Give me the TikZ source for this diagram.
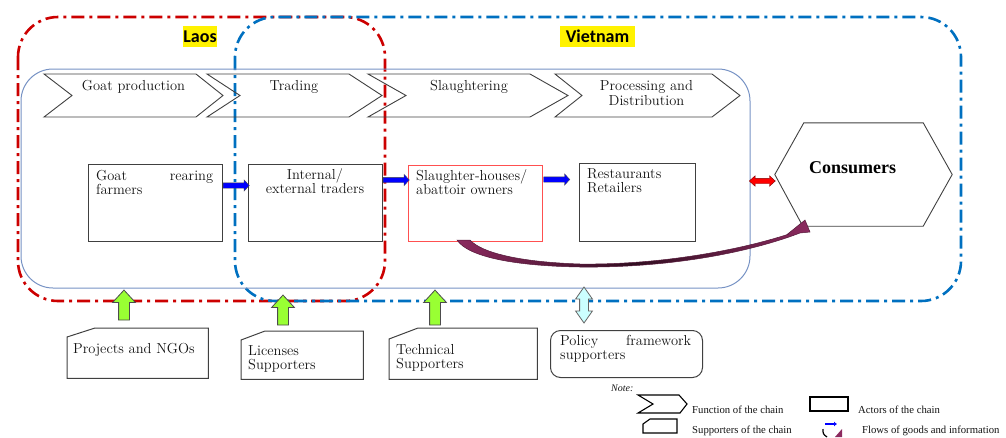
\documentclass[tikz,border=0pt]{standalone}
\usepackage{fontspec}
\newfontfamily\calfont{Carlito}
\newfontfamily\tnrfont{Liberation Serif}
\usetikzlibrary{shapes.arrows,calc,arrows.meta}
\definecolor{laored}{RGB}{204,0,0}
\definecolor{vnblue}{RGB}{0,112,192}
\definecolor{frameblue}{RGB}{118,146,196}
\definecolor{boxgray}{RGB}{64,64,64}
\definecolor{flowmaroon}{RGB}{140,42,95}
\definecolor{arrgreen}{RGB}{153,255,51}
\definecolor{arrcyan}{RGB}{204,255,255}
\definecolor{txt}{RGB}{20,20,20}
\definecolor{slred}{RGB}{255,80,80}
\tikzset{
  country/.style={line width=2.6pt, dash pattern=on 13pt off 5pt on 3pt off 5pt, rounded corners=40pt},
  chev/.style={draw=boxgray, line width=0.9pt},
  actor/.style={draw=boxgray, line width=1pt, inner sep=0pt},
  suppline/.style={draw=boxgray, line width=1pt},
  lbl/.style={font=\fontsize{14.5}{14.5}\selectfont, text=txt, inner sep=0pt, align=left},
  hlbox/.style={fill=yellow, inner sep=0pt, minimum height=21pt, font=\calfont\bfseries\fontsize{18}{20}\selectfont},
  legtxt/.style={font=\tnrfont\fontsize{10.7}{11}\selectfont, text=txt, inner sep=0pt},
  flowarrow/.style={single arrow, draw=black!70, fill=blue, line width=0.4pt, inner sep=2.5pt,
     minimum height=26pt, single arrow head extend=3pt, single arrow tip angle=95},
  supparrow/.style={single arrow, draw=black!70, fill=arrgreen, line width=0.8pt, inner sep=5pt,
     single arrow head extend=6pt, single arrow tip angle=85, rotate=90},
  polarrow/.style={double arrow, draw=black!60, fill=arrcyan, line width=0.8pt, inner sep=4pt,
     minimum height=36pt, double arrow head extend=4pt, double arrow tip angle=70, rotate=90},
  consarrow/.style={double arrow, draw=red!50!black, fill=red, line width=0.4pt, inner sep=2.5pt,
     minimum height=26pt, double arrow head extend=2.5pt, double arrow tip angle=84},
}
\newcommand\chevshape[4]{\draw[chev] (#1,74) -- (#3,74) -- (#4,95.5) -- (#3,117) -- (#1,117) -- (#2,95.5) -- cycle;}
\newcommand\cutbox[3]{\draw[suppline] (#1.south west) -- ([yshift=-#3pt]#1.north west) -- ([xshift=#2pt]#1.north west) -- (#1.north east) -- (#1.south east) -- cycle;}
\begin{document}
\begin{tikzpicture}[x=1pt,y=-1pt]
\useasboundingbox (0,0) rectangle (1006,437);

% country frames
\draw[country, laored] (18,17) rectangle (385,301);
\draw[country, vnblue] (235,17) rectangle (961,301);
\node[hlbox, minimum width=34pt] (laos) at (200,36.5) {Laos};
\node[hlbox, minimum width=75pt] (vn) at (597.5,36.5) {Vietnam};

% value chain frame
\draw[frameblue, line width=1pt, rounded corners=32pt] (21,69) rectangle (750,288);

% functions
\chevshape{44}{72}{196}{223}
\chevshape{207}{240}{349}{382}
\chevshape{368}{406}{530}{568}
\chevshape{555}{582}{712}{740}
\node[lbl, anchor=base] (fgoat) at (133.5,90) {Goat production};
\node[lbl, anchor=base] (ftrade) at (294,90) {Trading};
\node[lbl, anchor=base] (fslau) at (469,90) {Slaughtering};
\node[lbl, anchor=base, align=center] (fproc) at (646.5,105) {Processing and\\Distribution};

% actors
\node[actor, minimum width=134pt, minimum height=77pt] (farm) at (155,202.5) {};
\node[actor, minimum width=134pt, minimum height=77pt] (trad) at (315,202.5) {};
\node[actor, draw=slred, line width=1pt, minimum width=134pt, minimum height=76pt] (slau) at (475,203) {};
\node[actor, minimum width=116pt, minimum height=78pt] (rest) at (637,202) {};
\node[lbl, anchor=base west] (farmt) at (96,194.5) {\makebox[117pt][s]{Goat rearing}\\farmers};
\node[lbl, anchor=base, align=center] (tradt) at (315,193.5) {Internal/\\external traders};
\node[lbl, anchor=base west] (slaut) at (416,194.5) {Slaughter-houses/\\abattoir owners};
\node[lbl, anchor=base west] (restt) at (587,192.5) {Restaurants\\Retailers};

% consumers
\node[inner sep=0pt, minimum width=177pt, minimum height=103pt] (cons) at (863.5,174.5) {};
\draw[draw=boxgray, line width=0.9pt] (cons.west) -- ([xshift=29pt]cons.north west) -- ([xshift=-29pt]cons.north east)
  -- (cons.east) -- ([xshift=-29pt]cons.south east) -- ([xshift=28pt]cons.south west) -- cycle;
\node[inner sep=0pt, anchor=base, text=black, font=\tnrfont\bfseries\fontsize{18}{20}\selectfont] (const) at (852.5,173) {Consumers};

% flows
\node[flowarrow] (fa1) at ($(farm.north east)!.5!(trad.north west)+(0,22)$) {};
\node[flowarrow] (fa2) at ($(trad.north east)!.5!(slau.north west)+(0,16)$) {};
\node[flowarrow] (fa3) at ($(slau.north east)+(13,15)$) {};
\node[consarrow] (ca) at ($(cons.west)+(-12.5,6.5)$) {};

\draw[draw=flowmaroon!60!black, line width=0.5pt, left color=flowmaroon, right color=flowmaroon, middle color=flowmaroon!35!black]
  (457,240) -- (470,240)
  .. controls (482,253) and (520,262) .. (580,264)
  .. controls (660,265) and (740,250) .. (789,234)
  -- (787,234.5) -- (805,220) -- (810,232) -- (800,233)
  .. controls (745,254) and (665,268) .. (580,267)
  .. controls (515,266) and (468,257) .. (457,240) -- cycle;

% supporters
\node[inner sep=0pt, minimum width=141pt, minimum height=50pt, anchor=north west] (ngo) at (67,328) {};
\cutbox{ngo}{28}{9}
\node[lbl, anchor=base west] (ngot) at (73,353) {Projects and NGOs};
\node[inner sep=0pt, minimum width=122pt, minimum height=48pt, anchor=north west] (lic) at (241,331) {};
\cutbox{lic}{24}{9}
\node[lbl, anchor=base west] (lict) at (248,369.5) {Licenses\\Supporters};
\node[inner sep=0pt, minimum width=148pt, minimum height=51pt, anchor=north west] (tech) at (389,328) {};
\cutbox{tech}{29}{11}
\node[lbl, anchor=base west] (techt) at (396,368.5) {Technical\\Supporters};
\node[draw=boxgray, line width=1pt, rounded corners=10pt, inner sep=0pt, minimum width=152pt, minimum height=47pt, anchor=north west] (pol) at (550,330) {};
\node[lbl, anchor=base west] (polt) at (560,359.5) {\makebox[131pt][s]{Policy framework}\\supporters};

\node[supparrow, minimum height=30pt] (g1) at ($(ngo.north west)+(57,-20)$) {};
\node[supparrow, minimum height=30pt] (g2) at ($(lic.north west)+(42,-18)$) {};
\node[supparrow, minimum height=35pt] (g3) at ($(tech.north west)+(46,-17.5)$) {};
\node[polarrow] (pa) at ($(pol.north west)+(34,-25)$) {};

% legend
\node[legtxt, anchor=base west, font=\tnrfont\itshape\fontsize{10}{11}\selectfont] (note) at (611,391) {Note:};
\draw[black, line width=1.1pt] (638,395) -- (679,395) -- (687,404) -- (680,413) -- (638,413) -- (653,404) -- cycle;
\node[legtxt, anchor=base west] (l1) at (692,413) {Function of the chain};
\draw[black, line width=1.1pt] (810,397) rectangle (848,411);
\node[legtxt, anchor=base west] (l2) at (858,413) {Actors of the chain};
\draw[black, line width=1.1pt] (643,433) -- (643,424) -- (650,419) -- (677,419) -- (677,433) -- cycle;
\node[legtxt, anchor=base west] (l3) at (692,433) {Supporters of the chain};
\draw[blue, line width=2pt, -{Latex[length=3pt,width=5pt]}] (825,424) -- (837,424);
\draw[black, line width=1.2pt] (823,429) .. controls (823,434) .. (827,437);
\fill[flowmaroon] (835,437) -- (842,429) -- (842,437) -- cycle;
\node[legtxt, anchor=base west] (l4) at (862,433) {Flows of goods and information};
\end{tikzpicture}
\end{document}
